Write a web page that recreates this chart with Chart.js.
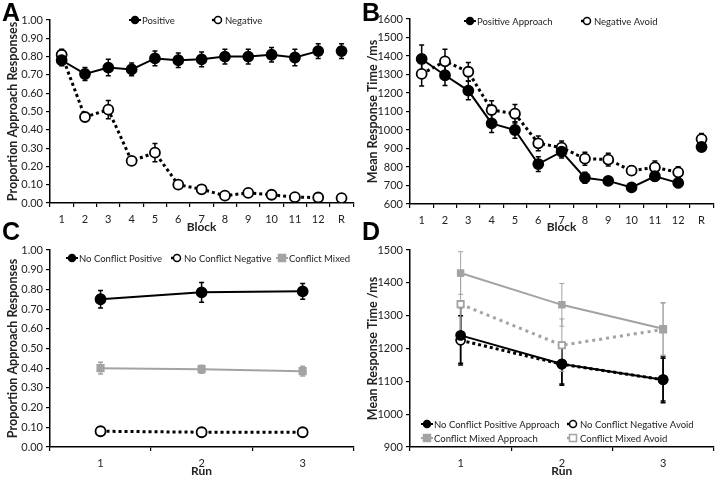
<!DOCTYPE html>
<html>
<head>
<meta charset="utf-8">
<script src="https://cdn.jsdelivr.net/npm/chart.js@4.4.0/dist/chart.umd.min.js"></script>
<style>
  body { margin: 0; background: #fff; }
  #wrap { position: relative; width: 720px; height: 478px; overflow: hidden; }
  .panel { position: absolute; }
  .letter { position: absolute; font-family: "Liberation Sans", Arial, sans-serif; font-weight: bold; font-size: 25px; line-height: 1; color: #000; }
</style>
</head>
<body>
<div id="wrap">
  <div class="panel" style="left:0;top:0;width:360px;height:235px"><canvas id="chartA"></canvas></div>
  <div class="panel" style="left:360px;top:0;width:360px;height:235px"><canvas id="chartB"></canvas></div>
  <div class="panel" style="left:0;top:235px;width:360px;height:243px"><canvas id="chartC"></canvas></div>
  <div class="panel" style="left:360px;top:235px;width:360px;height:243px"><canvas id="chartD"></canvas></div>
  <div class="letter" style="left:2px;top:0px">A</div>
  <div class="letter" style="left:362px;top:0px">B</div>
  <div class="letter" style="left:2px;top:219px">C</div>
  <div class="letter" style="left:362px;top:219px">D</div>
</div>
<script>
// data
const blockLabels = ['1', '2', '3', '4', '5', '6', '7', '8', '9', '10', '11', '12', 'R'];
const posProp = [0.78, 0.705, 0.74, 0.73, 0.79, 0.78, 0.785, 0.80, 0.80, 0.81, 0.795, 0.83, 0.83];
const posPropErr = [0.03, 0.035, 0.045, 0.035, 0.04, 0.04, 0.04, 0.04, 0.04, 0.04, 0.045, 0.04, 0.04];
const negProp = [0.81, 0.47, 0.51, 0.23, 0.275, 0.10, 0.075, 0.04, 0.055, 0.045, 0.032, 0.03, 0.027];
const negPropErr = [0.03, 0.02, 0.05, 0.02, 0.05, 0.015, 0.01, 0.01, 0.01, 0.01, 0.01, 0.01, 0.01];

const posRT = [1384, 1296, 1213, 1036, 1000, 816, 883, 742, 725, 690, 750, 714, 908];
const posRTErr = [75, 55, 50, 50, 45, 40, 35, 30, 20, 20, 25, 25, 20];
const negRT = [1303, 1371, 1315, 1108, 1088, 928, 905, 845, 840, 780, 798, 771, 951];
const negRTErr = [65, 65, 50, 50, 50, 40, 35, 35, 35, 25, 35, 30, 30];

const runLabels = ['1', '2', '3'];
const ncPosProp = [0.75, 0.785, 0.79];
const ncPosPropErr = [0.045, 0.05, 0.04];
const ncNegProp = [0.08, 0.075, 0.075];
const ncNegPropErr = [0.01, 0.01, 0.01];
const mixedProp = [0.40, 0.395, 0.385];
const mixedPropErr = [0.03, 0.02, 0.025];

const ncPosRT = [1240, 1153, 1105];
const ncPosRTErr = [85, 65, 70];
const ncNegRT = [1225, 1152, 1105];
const ncNegRTErr = [75, 60, 65];
const mixAppRT = [1430, 1333, 1260];
const mixAppRTErr = [65, 65, 80];
const mixAvoidRT = [1335, 1210, 1258];
const mixAvoidRTErr = [85, 80, 80];

const GRAY = '#a3a3a3';
const FONT = 'Lato';

function drawMarker(ctx, style, fill, stroke, x, y, r) {
    ctx.fillStyle = fill;
    ctx.strokeStyle = stroke;
    ctx.lineWidth = 1.5;
    ctx.beginPath();
    if (style === 'rect') {
        ctx.rect(x - r, y - r, r * 2, r * 2);
    } else {
        ctx.arc(x, y, r, 0, Math.PI * 2);
    }
    ctx.fill();
    ctx.stroke();
}

// error bars behind the markers
const errorBars = {
    id: 'errorBars',
    beforeDatasetsDraw(chart) {
        const ctx = chart.ctx;
        const yScale = chart.scales.y;
        chart.data.datasets.forEach((ds, i) => {
            if (!ds.errors) return;
            const meta = chart.getDatasetMeta(i);
            ctx.save();
            ctx.strokeStyle = ds.borderColor;
            ctx.lineWidth = ds.errorWidth || 1.5;
            meta.data.forEach((pt, j) => {
                const top = yScale.getPixelForValue(ds.data[j] + ds.errors[j]);
                const bot = yScale.getPixelForValue(ds.data[j] - ds.errors[j]);
                ctx.beginPath();
                ctx.moveTo(pt.x, top); ctx.lineTo(pt.x, bot);
                ctx.moveTo(pt.x - 2.5, top); ctx.lineTo(pt.x + 2.5, top);
                ctx.moveTo(pt.x - 2.5, bot); ctx.lineTo(pt.x + 2.5, bot);
                ctx.stroke();
            });
            ctx.restore();
        });
    }
};

// legend drawn inside the plot like the original
const legendMarks = {
    id: 'legendMarks',
    afterDraw(chart, args, opts) {
        if (!opts.items) return;
        const ctx = chart.ctx;
        ctx.save();
        ctx.font = '9.5px ' + FONT;
        ctx.textBaseline = 'middle';
        opts.items.forEach(item => {
            const ds = chart.data.datasets[item.index];
            ctx.strokeStyle = ds.borderColor;
            ctx.lineWidth = Math.min(ds.borderWidth, 2.5);
            ctx.setLineDash(ds.borderDash ? [2, 2] : []);
            ctx.beginPath();
            ctx.moveTo(item.x - 6, item.y);
            ctx.lineTo(item.x + 6, item.y);
            ctx.stroke();
            ctx.setLineDash([]);
            drawMarker(ctx, ds.pointStyle, ds.pointBackgroundColor, ds.pointBorderColor, item.x, item.y, 3.5);
            ctx.fillStyle = '#222';
            ctx.fillText(ds.label, item.x + 7, item.y + 0.5);
        });
        ctx.restore();
    }
};

function series(label, data, errors, opts) {
    return Object.assign({
        label: label,
        data: data,
        errors: errors,
        borderColor: '#000',
        borderWidth: 2,
        pointStyle: 'circle',
        pointRadius: 5,
        pointBorderWidth: 1.8,
        pointBackgroundColor: '#000',
        pointBorderColor: '#000',
        fill: false,
        tension: 0
    }, opts);
}

function makeChart(id, labels, datasets, cfg) {
    const ctx = document.getElementById(id).getContext('2d');
    return new Chart(ctx, {
        type: 'line',
        data: { labels: labels, datasets: datasets },
        plugins: [errorBars, legendMarks],
        options: {
            responsive: true,
            maintainAspectRatio: false,
            animation: false,
            events: [],
            layout: { padding: { top: cfg.top, right: cfg.right, left: 0, bottom: 0 } },
            plugins: {
                legend: { display: false },
                tooltip: { enabled: false },
                legendMarks: { items: cfg.legend }
            },
            scales: {
                x: {
                    type: 'category',
                    offset: true,
                    grid: { display: true, offset: true, drawOnChartArea: false, color: '#000', tickLength: 4, lineWidth: 1.2 },
                    border: { display: true, color: '#000', width: 1.5 },
                    ticks: { color: '#222', font: { family: FONT, size: 11 }, padding: cfg.xTickPad, maxRotation: 0, autoSkip: false },
                    title: { display: true, text: cfg.xTitle, color: '#222', font: { family: FONT, size: 12, weight: 'bold' }, padding: { top: 0, bottom: cfg.xTitlePad } },
                    afterFit: s => { s.height = cfg.xHeight; }
                },
                y: {
                    min: cfg.yMin,
                    max: cfg.yMax,
                    grid: { display: true, drawOnChartArea: false, color: '#000', tickLength: 4, lineWidth: 1.2 },
                    border: { display: true, color: '#000', width: 1.5 },
                    ticks: { stepSize: cfg.yStep, color: '#222', font: { family: FONT, size: 11 }, padding: 3, callback: cfg.yFormat },
                    title: { display: true, text: cfg.yTitle, color: '#222', font: { family: FONT, size: 12.5, weight: 'bold' }, padding: { top: 5, bottom: 0 } },
                    afterFit: s => { s.width = 50; }
                }
            }
        }
    });
}

// break the line before the R block
const gapBeforeR = { borderColor: c => c.p1DataIndex === blockLabels.length - 1 ? 'rgba(0,0,0,0)' : undefined };
const fmt2 = v => Number(v).toFixed(2);
const fmt0 = v => Math.round(v);

document.addEventListener('DOMContentLoaded', function () {
    makeChart('chartA', blockLabels, [
        series('Positive', posProp, posPropErr, { segment: gapBeforeR }),
        series('Negative', negProp, negPropErr, { borderWidth: 3, borderDash: [3, 3], pointBackgroundColor: '#fff', segment: gapBeforeR })
    ], {
        top: 20, right: 3, xHeight: 32, xTickPad: 6, xTitlePad: 1, xTitle: 'Block',
        yMin: 0, yMax: 1, yStep: 0.1, yFormat: fmt2, yTitle: 'Proportion Approach Responses',
        legend: [{ index: 0, x: 135, y: 20 }, { index: 1, x: 218, y: 20 }]
    });

    makeChart('chartB', blockLabels, [
        series('Positive Approach', posRT, posRTErr, { segment: gapBeforeR }),
        series('Negative Avoid', negRT, negRTErr, { borderWidth: 3, borderDash: [3, 3], pointBackgroundColor: '#fff', segment: gapBeforeR })
    ], {
        top: 19, right: 2, xHeight: 31, xTickPad: 6, xTitlePad: 1, xTitle: 'Block',
        yMin: 600, yMax: 1600, yStep: 100, yFormat: fmt0, yTitle: 'Mean Response Time /ms',
        legend: [{ index: 0, x: 110, y: 21 }, { index: 1, x: 227, y: 21 }]
    });

    makeChart('chartC', runLabels, [
        series('No Conflict Positive', ncPosProp, ncPosPropErr, {}),
        series('No Conflict Negative', ncNegProp, ncNegPropErr, { borderWidth: 3, borderDash: [3, 3], pointBackgroundColor: '#fff' }),
        series('Conflict Mixed', mixedProp, mixedPropErr, { borderColor: GRAY, pointStyle: 'rect', pointRadius: 4.5, pointBackgroundColor: GRAY, pointBorderColor: GRAY })
    ], {
        top: 15, right: 2, xHeight: 31, xTickPad: 6, xTitlePad: 0, xTitle: 'Run',
        yMin: 0, yMax: 1, yStep: 0.1, yFormat: fmt2, yTitle: 'Proportion Approach Responses',
        legend: [{ index: 0, x: 72, y: 23 }, { index: 1, x: 177, y: 23 }, { index: 2, x: 282, y: 23 }]
    });

    makeChart('chartD', runLabels, [
        series('No Conflict Positive Approach', ncPosRT, ncPosRTErr, { pointRadius: 4.5 }),
        series('No Conflict Negative Avoid', ncNegRT, ncNegRTErr, { borderWidth: 3, borderDash: [3, 3], pointRadius: 4.5, pointBackgroundColor: '#fff' }),
        series('Conflict Mixed Approach', mixAppRT, mixAppRTErr, { borderColor: GRAY, errorWidth: 1, pointStyle: 'rect', pointRadius: 4, pointBackgroundColor: GRAY, pointBorderColor: GRAY }),
        series('Conflict Mixed Avoid', mixAvoidRT, mixAvoidRTErr, { borderColor: GRAY, errorWidth: 1, borderWidth: 3, borderDash: [3, 4], pointStyle: 'rect', pointRadius: 4.5, pointBackgroundColor: '#fff', pointBorderColor: GRAY })
    ], {
        top: 15, right: 2, xHeight: 31, xTickPad: 6, xTitlePad: 0, xTitle: 'Run',
        yMin: 900, yMax: 1500, yStep: 100, yFormat: fmt0, yTitle: 'Mean Response Time /ms',
        legend: [{ index: 0, x: 67, y: 189 }, { index: 1, x: 213, y: 189 }, { index: 2, x: 67, y: 203 }, { index: 3, x: 213, y: 203 }]
    });
});
</script>
</body>
</html>
